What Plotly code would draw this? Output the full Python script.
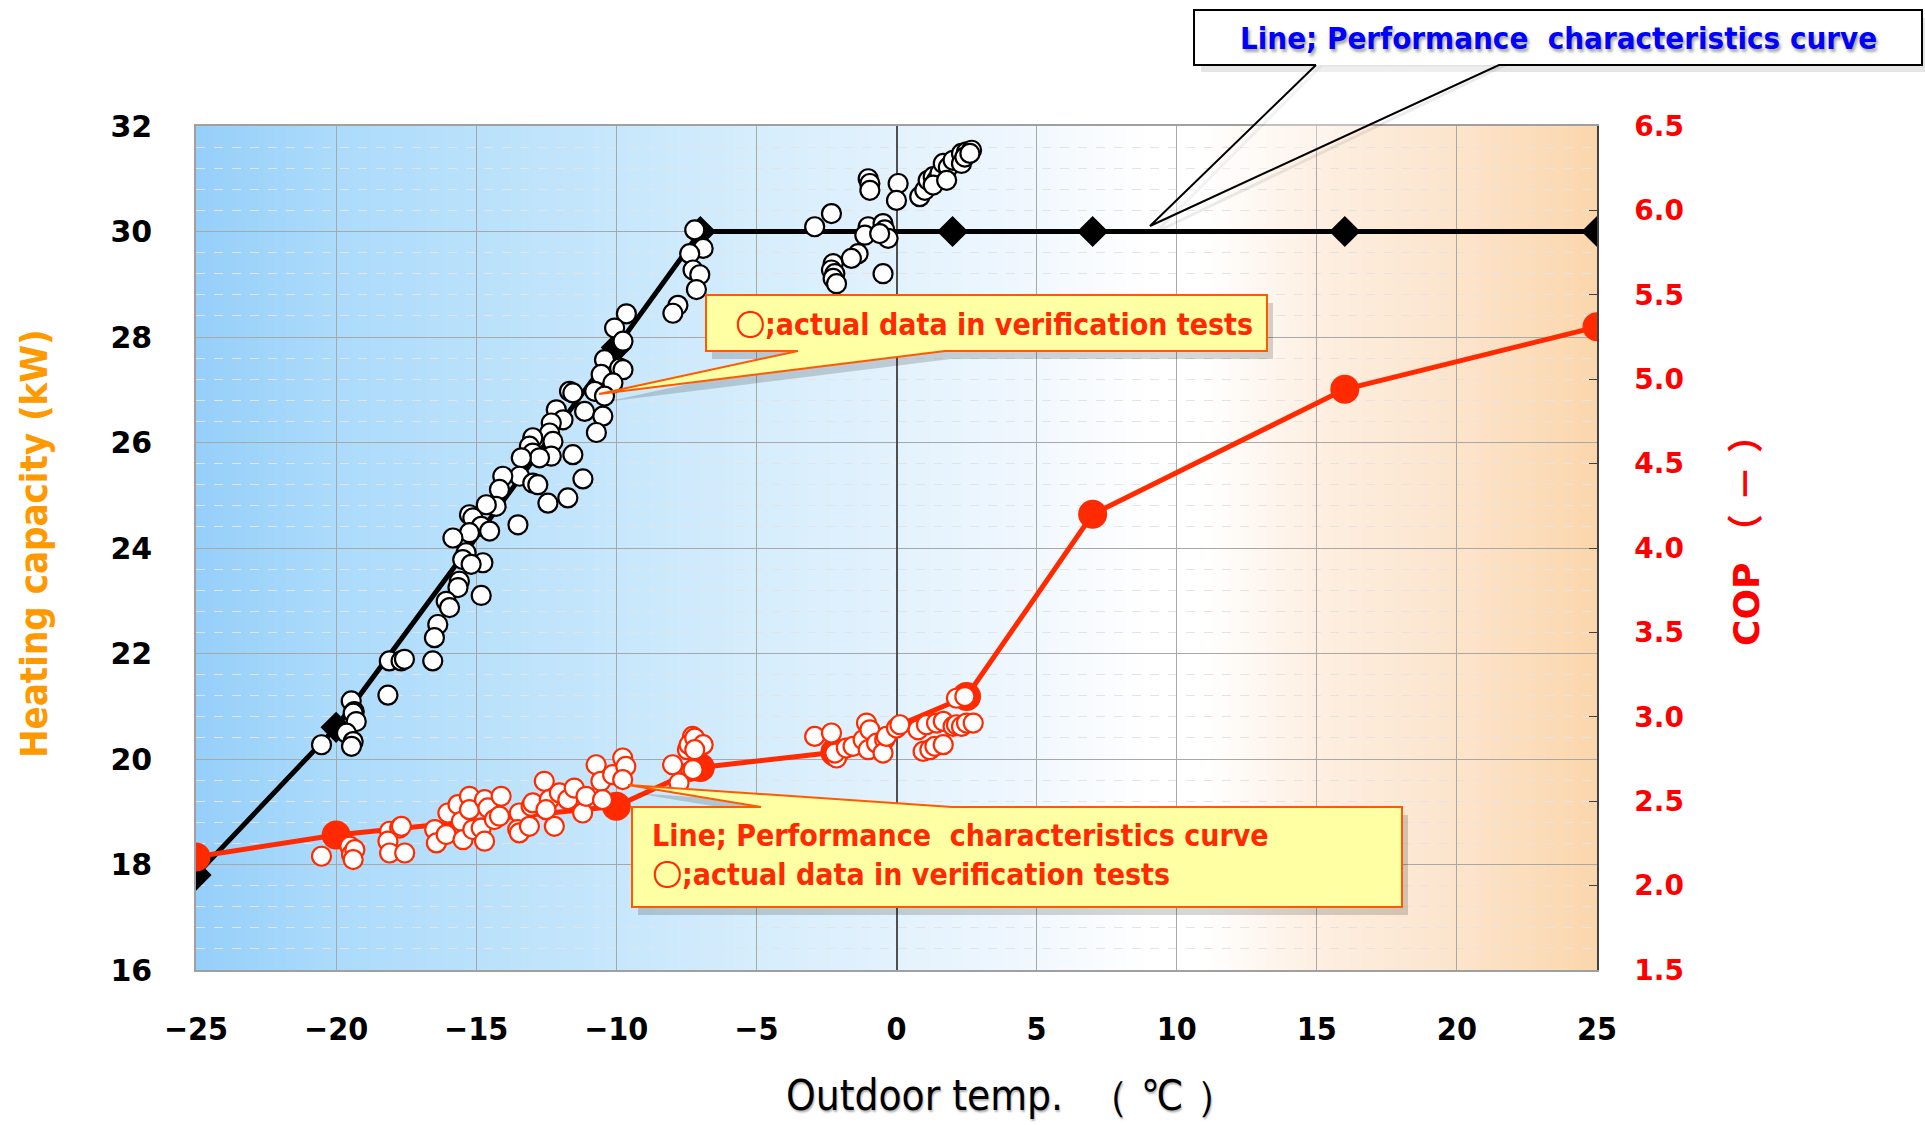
import plotly.graph_objects as go

# ---------------- data ----------------
curve_temp = [-25, -20, -10, -7, 2, 7, 16, 25]
curve_capacity = [17.8, 20.6, 27.8, 30.0, 30.0, 30.0, 30.0, 30.0]

cop_temp = [-25, -20, -10, -7, -2.2, 2.5, 7, 16, 25]
cop_curve = [2.17, 2.30, 2.47, 2.70, 2.79, 3.12, 4.20, 4.94, 5.31]

test_temp_cap = [
    -7.2, -6.9, -7.38, -7.26, -7.02, -7.14, -7.8, -7.98, -9.64, -10.06, -9.76, -10.42, -9.88, -9.76,
    -10.54, -10.12, -10.77, -10.42, -11.67, -11.55, -11.13, -10.48, -10.71, -12.14, -11.9, -12.32,
    -12.38, -12.98, -13.1, -12.98, -12.26, -12.32, -12.74, -13.39, -11.55, -11.19, -13.45, -14.05,
    -14.17, -12.98, -12.8, -12.44, -11.73, -14.29, -14.64, -15.24, -15.12, -14.82, -14.52, -15.24,
    -15.83, -13.51, -15.36, -15.48, -14.76, -15.18, -15.6, -15.65, -14.82, -16.07, -15.95, -16.37,
    -16.49, -16.55, -18.1, -17.68, -17.56, -18.15, -19.46, -19.35,
    -20.52, -19.39, -19.28, -19.63, -19.39, -19.45,
    -2.92, -2.32, -1.01, -0.95, -0.95, -1.01, -1.13, -0.48, -0.42, -0.3, -0.6, 0.06, 0.0, -1.37,
    -1.61, -2.26, -2.32, -2.2, -2.26, -2.14, -0.48, 0.83, 1.01, 1.13, 1.31, 1.43, 1.55, 1.67, 1.85,
    2.02, 2.32, 2.5, 2.68, 2.32, 1.31, 1.79, 2.44, 2.62,
]
test_capacity = [
    30.03, 29.68, 29.58, 29.27, 29.18, 28.9, 28.6, 28.45, 28.44, 28.17, 27.92, 27.57, 27.41, 27.38,
    27.29, 27.13, 26.97, 26.88, 26.97, 26.94, 26.59, 26.5, 26.19, 26.62, 26.43, 26.37,
    26.18, 26.09, 25.93, 25.8, 26.02, 25.74, 25.71, 25.71, 25.77, 25.31, 25.36, 25.36,
    25.11, 25.23, 25.2, 24.85, 24.95, 24.79, 24.82, 24.63, 24.57, 24.41, 24.32, 24.29,
    24.19, 24.44, 23.91, 23.78, 23.72, 23.69, 23.37, 23.25, 23.1, 22.99, 22.87, 22.55,
    22.3, 21.86, 21.86, 21.86, 21.89, 21.21, 21.1, 20.9,
    20.27, 20.87, 20.71, 20.49, 20.33, 20.24,
    30.09, 30.34, 31.0, 30.91, 30.78, 30.09, 29.93, 30.15, 30.03, 29.87, 29.96, 30.91, 30.59, 29.58,
    29.49, 29.39, 29.27, 29.2, 29.11, 29.01, 29.2, 30.66, 30.78, 30.97, 31.04, 30.97, 31.1, 31.29, 31.22,
    31.35, 31.48, 31.51, 31.54, 31.29, 30.88, 30.97, 31.41, 31.48,
]

test_temp_cop = [
    -20.52, -19.51, -19.45, -19.33, -19.39, -18.09, -17.73, -17.67, -18.15, -18.09, -17.55, -16.48,
    -16.42, -16.07, -16.01, -15.65, -15.53, -15.24, -15.24, -15.47, -15.12, -14.82, -14.7, -14.7,
    -14.58, -14.11, -14.35, -14.17, -13.46, -13.52, -13.46, -13.1, -13.04, -12.98, -12.57, -12.39,
    -12.21, -12.51, -12.03, -11.73, -11.5, -11.2, -11.08, -10.72, -10.55, -10.49, -10.13, -9.77,
    -9.66, -9.77,
    -7.99, -7.34, -7.46, -7.28, -7.76, -7.4, -7.2, -6.9, -7.2, -7.26,
    -2.92, -2.32, -2.14, -2.2, -1.79, -1.55, -1.19, -1.07, -0.95, -1.01, -0.71, -0.42, -0.48, -0.36,
    0.0, 0.12, 0.77, 0.95, 1.07, 1.19, 1.37, 1.43, 1.67, 1.67, 2.02, 2.14, 2.32, 2.5, 2.74, 2.14, 2.44,
]
test_cop = [
    2.174, 2.233, 2.184, 2.213, 2.154, 2.322, 2.341, 2.351, 2.263, 2.193, 2.193, 2.332,
    2.253, 2.302, 2.43, 2.48, 2.381, 2.529, 2.45, 2.272, 2.332, 2.341, 2.263, 2.509,
    2.46, 2.529, 2.391, 2.411, 2.43, 2.332, 2.312, 2.351, 2.47, 2.49, 2.618, 2.509,
    2.351, 2.45, 2.549, 2.509, 2.578, 2.43, 2.529, 2.716, 2.618, 2.509, 2.657, 2.756,
    2.706, 2.628,
    2.716, 2.677, 2.805, 2.884, 2.608, 2.835, 2.874, 2.835, 2.805, 2.687,
    2.884, 2.904, 2.756, 2.785, 2.815, 2.825, 2.864, 2.963, 2.923, 2.805, 2.844, 2.864, 2.785, 2.884,
    2.933, 2.953, 2.923, 2.795, 2.953, 2.805, 2.825, 2.963, 2.835, 2.973, 2.943, 2.953, 2.943, 2.963, 2.963, 3.11, 3.12,
]

x_ticks = [-25, -20, -15, -10, -5, 0, 5, 10, 15, 20, 25]

# ---------------- style ----------------
NARROW = "Liberation Sans Narrow, Arial Narrow, DejaVu Sans Condensed, sans-serif"
WIDE = "DejaVu Sans, Liberation Sans, Arial, sans-serif"
RED = "#FF2A00"

W, H = 1925, 1125
L, R, T, B = 196, 1597, 126, 970


def px(x):
    return (x - L) / (R - L)


def py(y):
    return (B - y) / (B - T)


def path(points):
    return "M " + " L ".join(f"{px(a):.5f} {py(b):.5f}" for a, b in points) + " Z"


# background gradient stops (temperature, rgb)
grad = [(-25, (150, 207, 250)), (-20, (172, 219, 251)), (-15, (185, 225, 251)),
        (-10, (199, 231, 252)), (-5, (214, 237, 252)), (0, (227, 242, 253)),
        (5, (241, 248, 254)), (9, (255, 255, 255)), (11, (255, 255, 255)),
        (15, (253, 239, 225)), (20, (252, 228, 204)), (25, (251, 214, 172))]


def gcol(t):
    for (t0, c0), (t1, c1) in zip(grad[:-1], grad[1:]):
        if t0 <= t <= t1:
            f = (t - t0) / (t1 - t0)
            c = [round(a + (b - a) * f) for a, b in zip(c0, c1)]
            return f"rgb({c[0]},{c[1]},{c[2]})"
    return "rgb(255,255,255)"


shapes = []
N = 250
for i in range(N):
    x0 = -25 + 50 * i / N
    x1 = x0 + 50 / N
    shapes.append(dict(type="rect", xref="x", yref="y", x0=x0, x1=min(x1 + 0.04, 25), y0=16, y1=32,
                       fillcolor=gcol((x0 + x1) / 2), line=dict(width=0), layer="below"))

# --- top callout (white box, black outline, transparent wedge) ---
tb = dict(l=1194, r=1922, t=10, b=65)
tip1 = (1150, 226)
base_a, base_b = 1316, 1499
shapes.append(dict(type="path", xref="paper", yref="paper",
                   path=path([(tb['l'] + 7, tb['t'] + 8), (tb['r'] + 4, tb['t'] + 8), (tb['r'] + 4, tb['b'] + 7),
                              (tb['l'] + 7, tb['b'] + 7)]),
                   fillcolor="rgba(0,0,0,0.10)", line=dict(width=0), layer="above"))
shapes.append(dict(type="path", xref="paper", yref="paper",
                   path=path([(base_a + 6, tb['b']), (tip1[0] + 6, tip1[1] + 6), (base_b + 6, tb['b'])]),
                   fillcolor="rgba(0,0,0,0.0)", line=dict(width=3, color="rgba(0,0,0,0.08)"), layer="above"))
shapes.append(dict(type="rect", xref="paper", yref="paper", x0=px(tb['l']), x1=px(tb['r']),
                   y0=py(tb['b']), y1=py(tb['t']), fillcolor="white", line=dict(width=0), layer="above"))
shapes.append(dict(type="path", xref="paper", yref="paper",
                   path=path([(base_a, tb['b']), tip1, (base_b, tb['b'])]),
                   fillcolor="rgba(255,255,255,0.35)", line=dict(width=0), layer="above"))
shapes.append(dict(type="path", xref="paper", yref="paper",
                   path="M " + " L ".join(f"{px(a):.5f} {py(b):.5f}" for a, b in [
                       (base_a, tb['b']), (tb['l'], tb['b']), (tb['l'], tb['t']), (tb['r'], tb['t']),
                       (tb['r'], tb['b']), (base_b, tb['b']), tip1, (base_a, tb['b'])]),
                   fillcolor="rgba(0,0,0,0)", line=dict(width=2, color="black"), layer="above"))

# --- yellow callout 1 ---
YF = "#FFFFA3"
YL = "#FF5A00"
b1 = dict(l=706, r=1267, t=295, b=351)
pts1 = [(b1['l'], b1['t']), (b1['r'], b1['t']), (b1['r'], b1['b']), (945, b1['b']), (599, 394),
        (798, b1['b']), (b1['l'], b1['b'])]
shapes.append(dict(type="path", xref="paper", yref="paper",
                   path=path([(a + 6, b + 8) for a, b in pts1]),
                   fillcolor="rgba(0,0,0,0.16)", line=dict(width=0), layer="above"))
shapes.append(dict(type="path", xref="paper", yref="paper", path=path(pts1),
                   fillcolor=YF, line=dict(width=2, color=YL), layer="above"))

# --- yellow callout 2 ---
b2 = dict(l=632, r=1402, t=807, b=907)
pts2 = [(b2['l'], b2['t']), (761, b2['t']), (628, 785), (952, b2['t']), (b2['r'], b2['t']),
        (b2['r'], b2['b']), (b2['l'], b2['b'])]
shapes.append(dict(type="path", xref="paper", yref="paper",
                   path=path([(a + 6, b + 8) for a, b in pts2]),
                   fillcolor="rgba(0,0,0,0.16)", line=dict(width=0), layer="above"))
shapes.append(dict(type="path", xref="paper", yref="paper", path=path(pts2),
                   fillcolor=YF, line=dict(width=2, color=YL), layer="above"))

CIRC = "〇"
annotations = [
    dict(xref="paper", yref="paper", x=px(1558), y=py(38), text="Line; Performance\u00a0 characteristics curve",
         showarrow=False, xanchor="center", yanchor="middle",
         font=dict(family=NARROW, size=31, color="#0000FF", weight="bold",
                   shadow="2px 3px 3px rgba(0,0,0,0.35)")),
    dict(xref="paper", yref="paper", x=px(733), y=py(324), text=CIRC + ";actual data in verification tests",
         showarrow=False, xanchor="left", yanchor="middle",
         font=dict(family=NARROW, size=30, color=RED, weight="bold")),
    dict(xref="paper", yref="paper", x=px(650), y=py(855),
         text="Line; Performance\u00a0 characteristics curve<br>" + CIRC + ";actual data in verification tests",
         showarrow=False, xanchor="left", yanchor="middle", align="left",
         font=dict(family=NARROW, size=30, color=RED, weight="bold")),
    dict(xref="paper", yref="paper", x=px(1012), y=py(1095), text="Outdoor temp.\u00a0\u00a0（ ℃ ）",
         showarrow=False, xanchor="center", yanchor="middle",
         font=dict(family=NARROW, size=42, color="black", shadow="1px 2px 2px rgba(0,0,0,0.3)")),
    dict(xref="paper", yref="paper", x=px(34), y=py(544), text="Heating capacity (kW)", textangle=-90,
         showarrow=False, xanchor="center", yanchor="middle",
         font=dict(family=NARROW, size=38, color="#FF9900", weight="bold")),
    dict(xref="paper", yref="paper", x=px(1746), y=py(532), text="COP\u00a0（\u00a0－\u00a0）", textangle=-90,
         showarrow=False, xanchor="center", yanchor="middle",
         font=dict(family=WIDE + ", Noto Sans CJK JP", size=36, color="#FF0000", weight="bold")),
]

fig = go.Figure()
fig.add_trace(go.Scatter(x=curve_temp, y=curve_capacity, mode="lines+markers",
                         line=dict(color="black", width=5),
                         marker=dict(symbol="diamond", size=24, color="black"), yaxis="y"))
fig.add_trace(go.Scatter(x=cop_temp, y=cop_curve, mode="lines+markers",
                         line=dict(color=RED, width=5),
                         marker=dict(symbol="circle", size=29, color=RED), yaxis="y2"))
fig.add_trace(go.Scatter(x=test_temp_cap, y=test_capacity, mode="markers",
                         marker=dict(symbol="circle", size=19, color="white",
                                     line=dict(color="black", width=2.2)), yaxis="y"))
fig.add_trace(go.Scatter(x=test_temp_cop, y=test_cop, mode="markers",
                         marker=dict(symbol="circle", size=19, color="white",
                                     line=dict(color=RED, width=2.2)), yaxis="y2"))

fig.update_layout(
    width=W, height=H, autosize=False,
    margin=dict(l=L, r=W - R, t=T, b=H - B, pad=0),
    paper_bgcolor="white", plot_bgcolor="white",
    showlegend=False,
    shapes=shapes, annotations=annotations,
    xaxis=dict(range=[-25, 25], tickvals=x_ticks, ticktext=[str(v) if v >= 0 else "\u2212" + str(-v) for v in x_ticks],
               showgrid=True, gridcolor="#a8a8a8", gridwidth=1,
               zeroline=True, zerolinecolor="#505050", zerolinewidth=1.5,
               showline=True, linecolor="#a0a0a0", linewidth=1.5, mirror=True, ticks="",
               tickfont=dict(family=NARROW, size=32, color="black", weight="bold"),
               ticklabelstandoff=30),
    yaxis=dict(range=[16, 32], dtick=2, tick0=16,
               showgrid=True, gridcolor="#a8a8a8", gridwidth=1,
               minor=dict(dtick=0.4, tick0=16, showgrid=True, gridcolor="#e4e4e4", griddash="dash", gridwidth=1),
               zeroline=False, showline=True, linecolor="#a0a0a0", linewidth=1.5, ticks="",
               tickfont=dict(family=WIDE, size=30, color="black", weight="bold"),
               ticklabelstandoff=36),
    yaxis2=dict(range=[1.5, 6.5], dtick=0.5, tick0=1.5, tickformat=".1f", overlaying="y", side="right",
                showgrid=False, zeroline=False, showline=True, linecolor="#404040", linewidth=1.5,
                ticks="inside", ticklen=8, tickcolor="#404040",
                tickfont=dict(family=WIDE, size=28, color="#FF0000", weight="bold"),
                ticklabelstandoff=30),
)

fig.write_html("out.html")
